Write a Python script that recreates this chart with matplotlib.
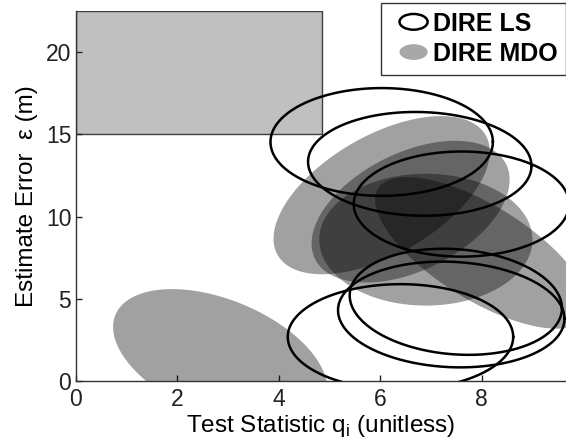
import numpy as np
import matplotlib
matplotlib.use("Agg")
import matplotlib.pyplot as plt
import matplotlib.patches as mpatches
from matplotlib.legend_handler import HandlerPatch

plt.rcParams['font.family'] = ['Liberation Sans', 'DejaVu Sans']

# ---- data ----
# LS ellipses: center x, center y, half-width in x, half-height in y, tilt (-1..1)
ls_cx = [6.03, 6.78, 7.60, 7.49, 7.40, 6.40]
ls_cy = [14.53, 13.20, 10.76, 4.83, 4.06, 2.70]
ls_ax = [2.19, 2.20, 2.12, 2.09, 2.23, 2.22]
ls_ay = [3.27, 3.15, 3.19, 3.22, 3.21, 3.20]
ls_r = [0.0, -0.04, 0.0, -0.12, -0.08, 0.0]

# MDO ellipses (filled)
mdo_cx = [2.85, 6.03, 6.60, 6.90, 8.00]
mdo_cy = [1.42, 11.30, 10.30, 8.60, 7.80]
mdo_ax = [2.11, 2.13, 1.95, 2.10, 2.10]
mdo_ay = [4.18, 4.80, 4.30, 4.00, 4.60]
mdo_r = [-0.45, 0.55, 0.45, 0.0, -0.70]

# region box
box_x = [0.0, 4.85]
box_y = [15.0, 22.5]

x_ticks = [0, 2, 4, 6, 8]
y_ticks = [0, 5, 10, 15, 20]


def ellipse_xy(cx, cy, ax_, ay_, r, n=300):
    t = np.linspace(0, 2 * np.pi, n)
    return cx + ax_ * np.cos(t), cy + ay_ * np.sin(t + np.arcsin(r))


fig = plt.figure(figsize=(5.66, 4.48), dpi=100)
ax = fig.add_axes([0.1334, 0.1487, 0.8666, 0.8276])
ax.set_xlim(0, 9.66)
ax.set_ylim(0, 22.5)

ax.add_patch(mpatches.Rectangle((box_x[0], box_y[0]), box_x[1] - box_x[0],
                                box_y[1] - box_y[0], facecolor='#c0c0c0',
                                edgecolor='#404040', linewidth=1.0, zorder=1))

for cx, cy, a, b, r in zip(mdo_cx, mdo_cy, mdo_ax, mdo_ay, mdo_r):
    x, y = ellipse_xy(cx, cy, a, b, r)
    ax.fill(x, y, color='black', alpha=0.37, linewidth=0, zorder=2)

for cx, cy, a, b, r in zip(ls_cx, ls_cy, ls_ax, ls_ay, ls_r):
    x, y = ellipse_xy(cx, cy, a, b, r)
    ax.plot(x, y, color='black', linewidth=1.8, zorder=3)

for s in ['top', 'right']:
    ax.spines[s].set_visible(False)
for s in ['left', 'bottom']:
    ax.spines[s].set_color('#333333')
    ax.spines[s].set_linewidth(1.0)

ax.set_xticks(x_ticks)
ax.set_yticks(y_ticks)
ax.tick_params(direction='in', length=4, width=1, colors='#222222', labelsize=16.5)
ax.tick_params(axis='x', pad=5)
ax.tick_params(axis='y', pad=3)

ax.set_xlabel('Test Statistic q$_\\mathregular{i}$ (unitless)', fontsize=17.5, labelpad=1)
ax.set_ylabel('Estimate Error  ε (m)', fontsize=17.5, labelpad=6)


class HandlerEllipse(HandlerPatch):
    def create_artists(self, legend, orig_handle, xdescent, ydescent,
                       width, height, fontsize, trans):
        w = 0.74 * width
        center = (width - 0.5 * w - xdescent, 0.5 * height - ydescent)
        p = mpatches.Ellipse(xy=center, width=w, height=height * 0.9)
        self.update_prop(p, orig_handle, legend)
        p.set_transform(trans)
        return [p]


h_ls = mpatches.Ellipse((0, 0), 1, 1, facecolor='none', edgecolor='black', linewidth=1.8)
h_mdo = mpatches.Ellipse((0, 0), 1, 1, facecolor='#a8a8a8', edgecolor='none')
leg = ax.legend([h_ls, h_mdo], ['DIRE LS', 'DIRE MDO'],
                handler_map={mpatches.Ellipse: HandlerEllipse()},
                loc='upper right', bbox_to_anchor=(1.0, 1.021), borderaxespad=0,
                prop={'size': 18, 'weight': 'bold'}, handlelength=1.52,
                handletextpad=0.2, labelspacing=0.25, borderpad=0.35,
                fancybox=False, framealpha=1, edgecolor='#333333')
leg.get_frame().set_linewidth(1.0)

fig.savefig('out.png', dpi=100)
